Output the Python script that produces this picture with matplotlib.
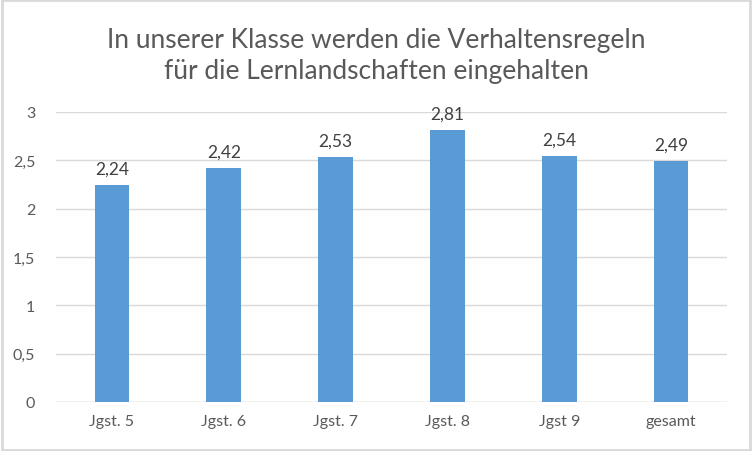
import matplotlib.pyplot as plt
from matplotlib.patches import Rectangle

plt.rcParams['font.family'] = ['Lato', 'DejaVu Sans']

categories = ['Jgst. 5', 'Jgst. 6', 'Jgst. 7', 'Jgst. 8', 'Jgst 9', 'gesamt']
values = [2.24, 2.42, 2.53, 2.81, 2.54, 2.49]
labels = ['2,24', '2,42', '2,53', '2,81', '2,54', '2,49']
yticks = [0, 0.5, 1, 1.5, 2, 2.5, 3]
ytick_labels = ['0', '0,5', '1', '1,5', '2', '2,5', '3']
title = 'In unserer Klasse werden die Verhaltensregeln\nfür die Lernlandschaften eingehalten'

fig = plt.figure(figsize=(7.52, 4.52), dpi=100)
ax = fig.add_axes([56/752, 49/452, 671/752, 290/452])

x = range(len(categories))
ax.bar(x, values, width=0.31, color='#5B9BD5', zorder=3)
for i, v in enumerate(values):
  ax.text(i, v + 0.09, labels[i], ha='center', va='bottom', fontsize=12.5, color='#404040')

ax.set_xlim(-0.5, len(categories) - 0.5)
ax.set_ylim(0, 3)
ax.set_yticks(yticks)
ax.set_yticklabels(ytick_labels)
ax.set_xticks(list(x))
ax.set_xticklabels(categories)
ax.tick_params(axis='both', length=0, labelsize=11.5, labelcolor='#595959')
ax.tick_params(axis='y', pad=15)
ax.tick_params(axis='x', pad=9)
ax.grid(axis='y', color='#D9D9D9', linewidth=1, zorder=0)
for s in ax.spines.values():
  s.set_visible(False)
ax.axhline(0, color='#D9D9D9', linewidth=1, zorder=2)

fig.text(0.5, 1 - 56/452, title, ha='center', va='center', fontsize=19,
         color='#595959', linespacing=1.3)

fig.patches.append(Rectangle((0.002, 0.003), 0.995, 0.994, transform=fig.transFigure,
                             fill=False, edgecolor='#D9D9D9', linewidth=2))

plt.savefig('out.png', dpi=100)
